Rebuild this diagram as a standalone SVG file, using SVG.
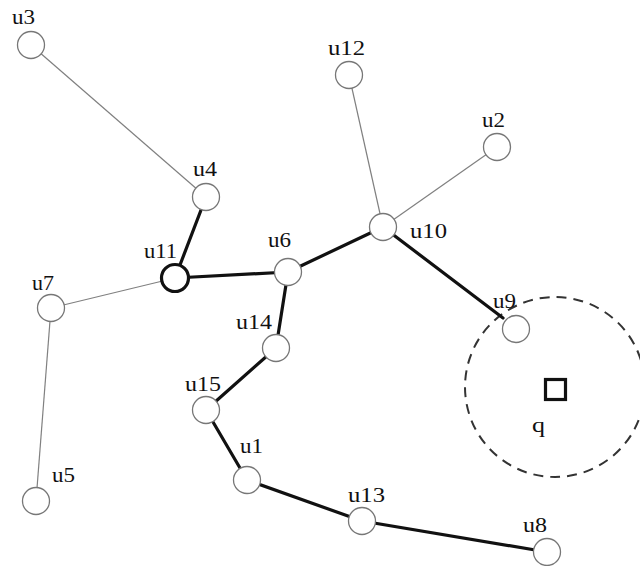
<svg xmlns="http://www.w3.org/2000/svg" width="640" height="566" viewBox="0 0 640 566">
  <style>
    .thin { stroke: #808080; stroke-width: 1.2; fill: none; }
    .thick { stroke: #111; stroke-width: 3.2; fill: none; stroke-linecap: round; }
    .node circle { fill: #fff; stroke: #777; stroke-width: 1.3; }
    .node.bold circle { stroke: #111; stroke-width: 3.2; }
    text { font-family: "Liberation Serif", "Times New Roman", serif; font-size: 20px; fill: #111; }
  </style>
  <rect width="640" height="566" fill="#fff"/>

  <!-- query range -->
  <g id="range">
    <circle cx="555" cy="387" r="90" fill="none" stroke="#333" stroke-width="2" stroke-dasharray="10 7"/>
    <rect x="545.5" y="379.5" width="20" height="20" fill="none" stroke="#111" stroke-width="3.2"/>
    <text x="532" y="432" textLength="13" lengthAdjust="spacingAndGlyphs">q</text>
  </g>

  <g id="connectors">
    <line class="thin" x1="31" y1="45" x2="206" y2="197"/>
    <line class="thin" x1="349" y1="75" x2="383" y2="227"/>
    <line class="thin" x1="497" y1="147" x2="383" y2="227"/>
    <line class="thin" x1="51" y1="308" x2="175" y2="278"/>
    <line class="thin" x1="51" y1="308" x2="36" y2="501"/>
    <line class="thick" x1="206" y1="197" x2="175" y2="278"/>
    <line class="thick" x1="175" y1="278" x2="288" y2="272"/>
    <line class="thick" x1="288" y1="272" x2="383" y2="227"/>
    <line class="thick" x1="383" y1="227" x2="503" y2="318"/>
    <line class="thick" x1="288" y1="272" x2="276" y2="348"/>
    <line class="thick" x1="276" y1="348" x2="206" y2="410"/>
    <line class="thick" x1="206" y1="410" x2="247" y2="480"/>
    <line class="thick" x1="247" y1="480" x2="362" y2="521"/>
    <line class="thick" x1="362" y1="521" x2="547" y2="552"/>
  </g>

  <g id="u3" class="node"><circle cx="31" cy="45" r="13.5"/><text x="12" y="24" textLength="23" lengthAdjust="spacingAndGlyphs">u3</text></g>
  <g id="u4" class="node"><circle cx="206" cy="197" r="13.5"/><text x="193" y="176" textLength="24" lengthAdjust="spacingAndGlyphs">u4</text></g>
  <g id="u12" class="node"><circle cx="349" cy="75" r="13.5"/><text x="328" y="55" textLength="37" lengthAdjust="spacingAndGlyphs">u12</text></g>
  <g id="u2" class="node"><circle cx="497" cy="147" r="13.5"/><text x="482" y="127" textLength="23" lengthAdjust="spacingAndGlyphs">u2</text></g>
  <g id="u10" class="node"><circle cx="383" cy="227" r="13.5"/><text x="410" y="238" textLength="37" lengthAdjust="spacingAndGlyphs">u10</text></g>
  <g id="u6" class="node"><circle cx="288" cy="272" r="13.5"/><text x="268" y="247" textLength="23" lengthAdjust="spacingAndGlyphs">u6</text></g>
  <g id="u11" class="node bold"><circle cx="175" cy="278" r="13.5"/><text x="144" y="258" textLength="33" lengthAdjust="spacingAndGlyphs">u11</text></g>
  <g id="u7" class="node"><circle cx="51" cy="308" r="13.5"/><text x="32" y="290" textLength="22" lengthAdjust="spacingAndGlyphs">u7</text></g>
  <g id="u9" class="node"><circle cx="516" cy="329" r="13.5"/><text x="493" y="308" textLength="23" lengthAdjust="spacingAndGlyphs">u9</text></g>
  <g id="u14" class="node"><circle cx="276" cy="348" r="13.5"/><text x="236" y="329" textLength="36" lengthAdjust="spacingAndGlyphs">u14</text></g>
  <g id="u15" class="node"><circle cx="206" cy="410" r="13.5"/><text x="185" y="391" textLength="36" lengthAdjust="spacingAndGlyphs">u15</text></g>
  <g id="u1" class="node"><circle cx="247" cy="480" r="13.5"/><text x="240" y="453" textLength="23" lengthAdjust="spacingAndGlyphs">u1</text></g>
  <g id="u5" class="node"><circle cx="36" cy="501" r="13.5"/><text x="52" y="482" textLength="23" lengthAdjust="spacingAndGlyphs">u5</text></g>
  <g id="u13" class="node"><circle cx="362" cy="521" r="13.5"/><text x="348" y="502" textLength="37" lengthAdjust="spacingAndGlyphs">u13</text></g>
  <g id="u8" class="node"><circle cx="547" cy="552" r="13.5"/><text x="523" y="532" textLength="24" lengthAdjust="spacingAndGlyphs">u8</text></g>
</svg>
